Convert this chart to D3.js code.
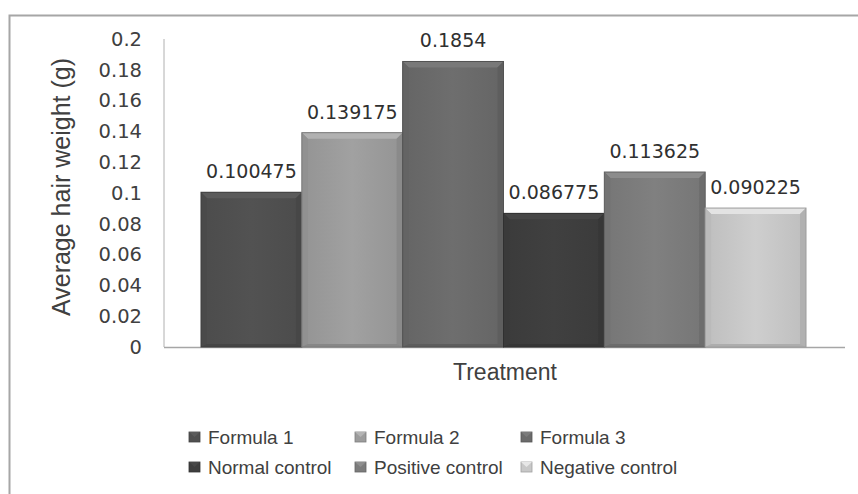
<!DOCTYPE html>
<html><head><meta charset="utf-8">
<script src="https://cdn.jsdelivr.net/npm/d3@7"></script>
<style>body{margin:0;background:#fff}svg{display:block}</style>
</head><body>
<svg id="c" width="858" height="494"></svg>
<script>
const categories = ["Formula 1","Formula 2","Formula 3","Normal control","Positive control","Negative control"];
const values = [0.100475, 0.139175, 0.1854, 0.086775, 0.113625, 0.090225];
const labels = ["0.100475","0.139175","0.1854","0.086775","0.113625","0.090225"];
const yTicks = [0,0.02,0.04,0.06,0.08,0.1,0.12,0.14,0.16,0.18,0.2];
const tickLabels = ["0","0.02","0.04","0.06","0.08","0.1","0.12","0.14","0.16","0.18","0.2"];
const colors = ["#505050","#9c9c9c","#6b6b6b","#3e3e3e","#7c7c7c","#c8c8c8"];

const svg = d3.select("#c");
const numFont = "DejaVu Sans, Open Sans, sans-serif";
const txtFont = "Liberation Sans, Arial, sans-serif";
// outer border
svg.append("rect").attr("x",9.5).attr("y",15.5).attr("width",870).attr("height",500)
  .attr("fill","none").attr("stroke","#a6a6a6").attr("stroke-width",2);

const x0 = 164, x1 = 845, yTop = 39, yBot = 347;
const y = d3.scaleLinear().domain([0,0.2]).range([yBot,yTop]);
const x = d3.scaleBand().domain(categories).range([x0+37, x1-39]).paddingInner(0);

// axes lines
svg.append("line").attr("x1",x0).attr("x2",x0).attr("y1",yTop).attr("y2",yBot).attr("stroke","#b0b0b0");
svg.append("line").attr("x1",x0).attr("x2",x1).attr("y1",yBot+0.5).attr("y2",yBot+0.5).attr("stroke","#a6a6a6").attr("stroke-width",1.5);

// y ticks
const yAxis = d3.axisLeft(y).tickValues(yTicks).tickSize(0).tickPadding(0)
  .tickFormat((d,i)=>tickLabels[i]);
const ga = svg.append("g").attr("transform",`translate(${x0-22},0)`).call(yAxis);
ga.select(".domain").remove();
ga.selectAll("text").attr("font-family",numFont).attr("font-size",19.5).attr("fill","#404040");

// gradients
const defs = svg.append("defs");
colors.forEach((c,i)=>{
  const g = defs.append("linearGradient").attr("id","g"+i).attr("x1",0).attr("x2",1).attr("y1",0).attr("y2",0);
  g.append("stop").attr("offset","0%").attr("stop-color",d3.color(c).darker(0.15));
  g.append("stop").attr("offset","50%").attr("stop-color",d3.color(c).brighter(0.08));
  g.append("stop").attr("offset","100%").attr("stop-color",d3.color(c).darker(0.15));
});

// bars
const bars = svg.append("g").selectAll("g").data(categories).join("g");
bars.each(function(cat,i){
  const g = d3.select(this);
  const bx = x(cat), bw = x.bandwidth(), by = y(values[i]), bh = yBot - by;
  const c = d3.color(colors[i]);
  const b = 6;
  g.append("rect").attr("x",bx).attr("y",by).attr("width",bw).attr("height",bh).attr("fill",`url(#g${i})`);
  g.append("path").attr("d",`M${bx},${by}L${bx+bw},${by}L${bx+bw-b},${by+b}L${bx+b},${by+b}Z`).attr("fill",c.brighter(0.35));
  g.append("path").attr("d",`M${bx},${by}L${bx+b},${by+b}L${bx+b},${yBot-2}L${bx},${yBot}Z`).attr("fill",c.darker(0.2));
  g.append("path").attr("d",`M${bx+bw},${by}L${bx+bw-b},${by+b}L${bx+bw-b},${yBot-2}L${bx+bw},${yBot}Z`).attr("fill",c.darker(0.35));
  g.append("path").attr("d",`M${bx},${yBot}L${bx+b},${yBot-3}L${bx+bw-b},${yBot-3}L${bx+bw},${yBot}Z`).attr("fill",c.darker(0.4));
  g.append("rect").attr("x",bx).attr("y",by).attr("width",bw).attr("height",bh).attr("fill","none")
    .attr("stroke",c.darker(0.7)).attr("stroke-width",1);
  g.append("text").attr("x",bx+bw/2).attr("y",by-14).attr("text-anchor","middle")
    .attr("font-family",numFont).attr("font-size",19).attr("fill","#303030")
    .text(labels[i]);
});

// axis titles
svg.append("text").attr("transform",`translate(70,187) rotate(-90)`).attr("text-anchor","middle")
  .attr("font-family",txtFont).attr("font-size",25).attr("fill","#404040")
  .text("Average hair weight (g)");
svg.append("text").attr("x",505).attr("y",380).attr("text-anchor","middle")
  .attr("font-family",txtFont).attr("font-size",23).attr("fill","#404040")
  .text("Treatment");

// legend
const legX = [189,355,521], legY = [437,467];
categories.forEach((cat,i)=>{
  const lx = legX[i%3], ly = legY[Math.floor(i/3)];
  const c = d3.color(colors[i]);
  svg.append("rect").attr("x",lx).attr("y",ly-5).attr("width",11).attr("height",10).attr("fill",c)
    .attr("stroke",c.darker(0.6)).attr("stroke-width",0.8);
  svg.append("path").attr("d",`M${lx},${ly-5}L${lx+5.5},${ly}L${lx+11},${ly-5}Z`).attr("fill",c.brighter(0.4));
  svg.append("text").attr("x",lx+19).attr("y",ly+6.5).attr("font-family",txtFont)
    .attr("font-size",19).attr("fill","#404040").text(cat);
});
</script>
</body></html>
